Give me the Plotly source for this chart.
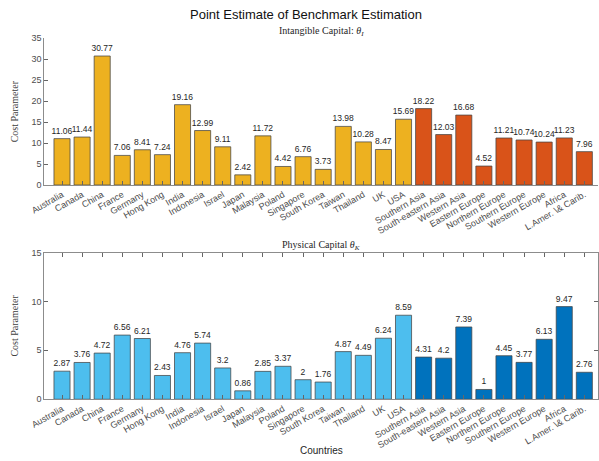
import plotly.graph_objects as go

countries = ["Australia", "Canada", "China", "France", "Germany", "Hong Kong", "India",
             "Indonesia", "Israel", "Japan", "Malaysia", "Poland", "Singapore", "South Korea",
             "Taiwan", "Thailand", "UK", "USA", "Southern Asia", "South-eastern Asia",
             "Western Asia", "Eastern Europe", "Northern Europe", "Southern Europe",
             "Western Europe", "Africa", "L.Amer. \\& Carib."]
n_country = 18  # first 18 are countries, rest are regions

theta_I = [11.06, 11.44, 30.77, 7.06, 8.41, 7.24, 19.16, 12.99, 9.11, 2.42, 11.72, 4.42,
           6.76, 3.73, 13.98, 10.28, 8.47, 15.69, 18.22, 12.03, 16.68, 4.52, 11.21, 10.74,
           10.24, 11.23, 7.96]
theta_K = [2.87, 3.76, 4.72, 6.56, 6.21, 2.43, 4.76, 5.74, 3.2, 0.86, 2.85, 3.37, 2, 1.76,
           4.87, 4.49, 6.24, 8.59, 4.31, 4.2, 7.39, 1, 4.45, 3.77, 6.13, 9.47, 2.76]

colors_I = ["#EDB120", "#D95319"]
colors_K = ["#4DBEEE", "#0072BD"]

xs = list(range(len(countries)))

def fmt(v):
    s = ("%.2f" % v).rstrip("0").rstrip(".")
    return s

fig = go.Figure()

def add_panel(vals, cols, xa, ya):
    fig.add_trace(go.Bar(
        x=xs, y=vals,
        marker=dict(color=[cols[0] if i < n_country else cols[1] for i in xs],
                    line=dict(color="rgba(70,70,70,0.75)", width=1)),
        text=[fmt(v) for v in vals], textposition="outside", textangle=0,
        constraintext="none",
        textfont=dict(family="Liberation Sans, Arial", size=8.5, color="#262626"),
        cliponaxis=False, xaxis=xa, yaxis=ya, showlegend=False,
        width=0.8,
    ))

add_panel(theta_I, colors_I, "x", "y")
add_panel(theta_K, colors_K, "x2", "y2")

W, H = 599, 461
xdom = [31 / W, 1.0]
top_dom = [1 - 184 / H, 1 - 34 / H]
bot_dom = [1 - 403 / H, 1 - 253 / H]

axis_col = "#8c8c8c"
tickfont = dict(family="Liberation Sans, Arial", size=9, color="#4d4d4d")

xcommon = dict(
    domain=xdom, range=[-0.885, len(countries) - 1 + 0.68],
    tickmode="array", tickvals=xs, ticktext=countries, tickangle=-30,
    ticks="inside", ticklen=4, tickcolor="#666666", tickwidth=1,
    showline=True, linecolor=axis_col, linewidth=1,
    showgrid=False, zeroline=False, tickfont=tickfont,
)
ycommon = dict(
    ticks="inside", ticklen=4, tickcolor="#666666", tickwidth=1,
    showline=True, linecolor=axis_col, linewidth=1,
    showgrid=False, zeroline=False, tickfont=tickfont, dtick=5,
    title=dict(text="Cost Parameter",
               font=dict(family="Liberation Serif, Times New Roman", size=10, color="#404040"),
               standoff=10),
)

fig.update_layout(
    width=W, height=H,
    margin=dict(l=0, r=0, t=0, b=0),
    paper_bgcolor="white", plot_bgcolor="white",
    bargap=0.2,
    xaxis=dict(xcommon, anchor="y"),
    yaxis=dict(ycommon, domain=top_dom, range=[0, 35], anchor="x"),
    xaxis2=dict(xcommon, anchor="y2", mirror="ticks"),
    yaxis2=dict(ycommon, domain=bot_dom, range=[0, 15], anchor="x2", mirror="ticks"),
    annotations=[
        dict(text="Point Estimate of Benchmark Estimation", x=0.5, y=1 - 10 / H,
             xref="paper", yref="paper", showarrow=False, xanchor="center", yanchor="middle",
             font=dict(family="Liberation Sans, Arial", size=13, color="#111111")),
        dict(text="Intangible Capital: <i>θ</i><sub><i>I</i></sub>", x=(xdom[0] + xdom[1]) / 2,
             y=1 - 27 / H, xref="paper", yref="paper", showarrow=False,
             xanchor="center", yanchor="middle",
             font=dict(family="Liberation Serif, Times New Roman", size=10, color="#262626")),
        dict(text="Physical Capital <i>θ</i><sub><i>K</i></sub>", x=(xdom[0] + xdom[1]) / 2,
             y=1 - 246 / H, xref="paper", yref="paper", showarrow=False,
             xanchor="center", yanchor="middle",
             font=dict(family="Liberation Serif, Times New Roman", size=10, color="#262626")),
        dict(text="Countries", x=(xdom[0] + xdom[1]) / 2, y=1 - 455 / H,
             xref="paper", yref="paper", showarrow=False,
             xanchor="center", yanchor="middle",
             font=dict(family="Liberation Sans, Arial", size=10, color="#262626")),
    ],
)

fig.write_html("out.html")
